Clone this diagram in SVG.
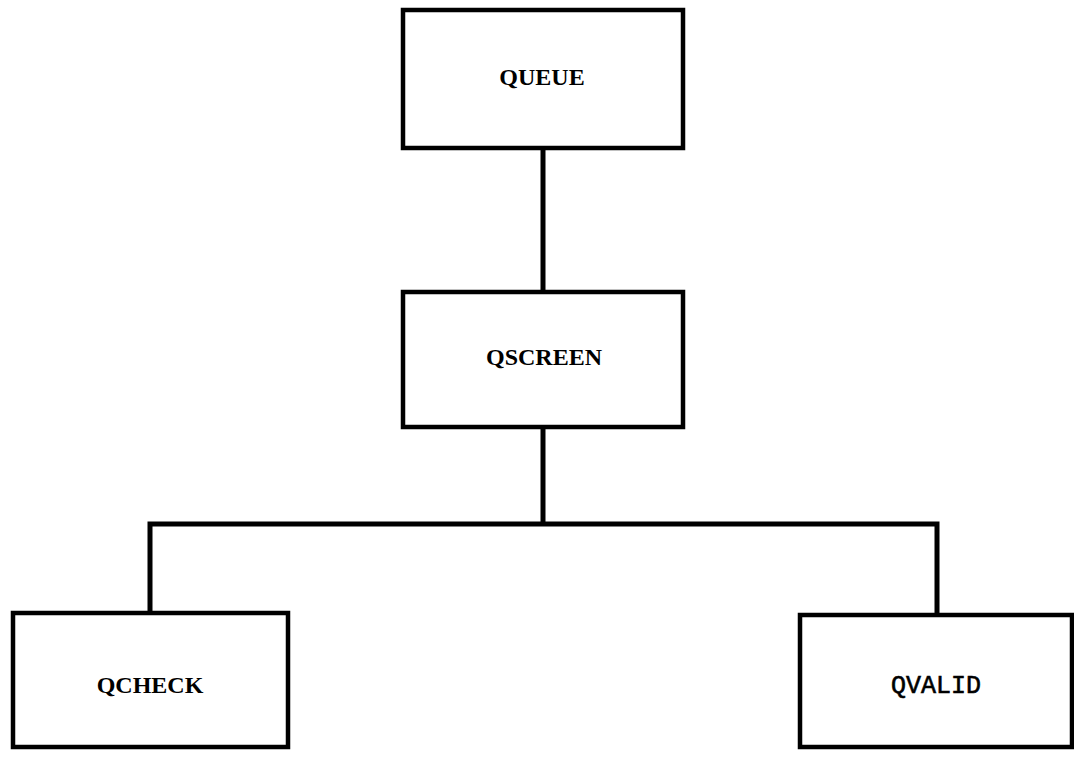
<svg xmlns="http://www.w3.org/2000/svg" width="1074" height="757" viewBox="0 0 1074 757">
<style>
.box{fill:#fff;stroke:#000;stroke-width:4.5}
.lbl{font-family:"Liberation Serif","Times New Roman",serif;font-weight:bold;font-size:24px;fill:#000;text-anchor:middle}
.mono{font-family:"Liberation Mono","Courier New",monospace;font-size:25px;font-weight:normal;stroke:#000;stroke-width:0.6}
.con{fill:none;stroke:#000;stroke-width:5;stroke-linejoin:miter}
</style>
<rect width="1074" height="757" fill="#fff"/>
<g id="connectors">
<line class="con" x1="543" y1="148" x2="543" y2="292"/>
<line class="con" x1="543" y1="427" x2="543" y2="524"/>
<polyline class="con" points="150,613 150,524 937,524 937,615"/>
</g>
<g id="queue">
<rect class="box" x="403" y="10" width="280" height="138"/>
<text class="lbl" x="542" y="85">QUEUE</text>
</g>
<g id="qscreen">
<rect class="box" x="403" y="292" width="280" height="135"/>
<text class="lbl" x="544" y="365">QSCREEN</text>
</g>
<g id="qcheck">
<rect class="box" x="13" y="613" width="275" height="134"/>
<text class="lbl" x="150" y="693">QCHECK</text>
</g>
<g id="qvalid">
<rect class="box" x="800" y="615" width="272" height="132"/>
<text class="lbl mono" x="936" y="693">QVALID</text>
</g>
</svg>
